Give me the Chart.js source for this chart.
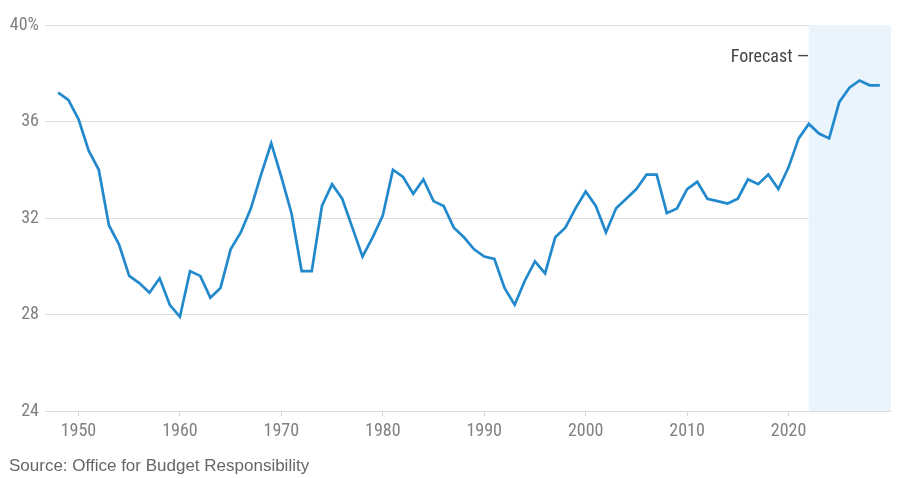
<!DOCTYPE html>
<html>
<head>
<meta charset="utf-8">
<script src="https://cdn.jsdelivr.net/npm/chart.js@4"></script>
<style>
  html, body { margin: 0; padding: 0; background: #fff; }
  #wrap { width: 900px; height: 478px; position: relative; }
</style>
</head>
<body>
<div id="wrap"><canvas id="c" width="900" height="478"></canvas></div>
<script>
// ---- data ----
const years = [1948,1949,1950,1951,1952,1953,1954,1955,1956,1957,1958,1959,1960,1961,1962,1963,1964,1965,1966,1967,1968,1969,1970,1971,1972,1973,1974,1975,1976,1977,1978,1979,1980,1981,1982,1983,1984,1985,1986,1987,1988,1989,1990,1991,1992,1993,1994,1995,1996,1997,1998,1999,2000,2001,2002,2003,2004,2005,2006,2007,2008,2009,2010,2011,2012,2013,2014,2015,2016,2017,2018,2019,2020,2021,2022,2023,2024,2025,2026,2027,2028,2029];
const taxShare = [37.2,36.9,36.1,34.8,34.0,31.7,30.9,29.6,29.3,28.9,29.5,28.4,27.9,29.8,29.6,28.7,29.1,30.7,31.4,32.4,33.8,35.1,33.7,32.2,29.8,29.8,32.5,33.4,32.8,31.6,30.4,31.2,32.1,34.0,33.7,33.0,33.6,32.7,32.5,31.6,31.2,30.7,30.4,30.3,29.1,28.4,29.4,30.2,29.7,31.2,31.6,32.4,33.1,32.5,31.4,32.4,32.8,33.2,33.8,33.8,32.2,32.4,33.2,33.5,32.8,32.7,32.6,32.8,33.6,33.4,33.8,33.2,34.1,35.3,35.9,35.5,35.3,36.8,37.4,37.7,37.5,37.5];
const yTicks = [24, 28, 32, 36, 40];
const xTicks = [1950, 1960, 1970, 1980, 1990, 2000, 2010, 2020];
const forecastStart = 2022;
const forecastLabel = "Forecast —";
const sourceText = "Source: Office for Budget Responsibility";

const NARROW = '"Liberation Sans Narrow", "Roboto Condensed", "Liberation Sans", sans-serif';

const forecastPlugin = {
  id: 'forecast',
  beforeDatasetsDraw(chart) {
    const { ctx, chartArea, scales } = chart;
    const x0 = scales.x.getPixelForValue(forecastStart);
    ctx.save();
    ctx.fillStyle = '#eaf4fc';
    ctx.fillRect(x0, chartArea.top, chartArea.right - x0, chartArea.bottom - chartArea.top);
    ctx.restore();
  },
  afterDatasetsDraw(chart) {
    const { ctx, scales } = chart;
    const x0 = scales.x.getPixelForValue(forecastStart);
    ctx.save();
    ctx.font = '18px ' + NARROW;
    ctx.fillStyle = '#444';
    ctx.textAlign = 'right';
    ctx.textBaseline = 'middle';
    ctx.fillText(forecastLabel, x0, scales.y.getPixelForValue(38.65));
    ctx.restore();
  }
};

new Chart(document.getElementById('c'), {
  type: 'line',
  data: {
    datasets: [{
      data: years.map((y, i) => ({ x: y, y: taxShare[i] })),
      borderColor: '#2289cc',
      borderWidth: 2.7,
      pointRadius: 0,
      tension: 0,
      fill: false
    }]
  },
  options: {
    responsive: false,
    animation: false,
    events: [],
    layout: { padding: { left: 9, right: 9, top: 25, bottom: 0 } },
    plugins: {
      legend: { display: false },
      tooltip: { enabled: false },
      title: {
        display: true,
        position: 'bottom',
        align: 'start',
        text: sourceText,
        color: '#666',
        font: { family: '"Liberation Sans", Arial, sans-serif', size: 17, weight: 'normal' },
        padding: { top: 9, bottom: 1 }
      }
    },
    scales: {
      x: {
        type: 'linear',
        min: 1946.7,
        max: 2030.1,
        afterBuildTicks(scale) { scale.ticks = xTicks.map(v => ({ value: v })); },
        ticks: {
          color: '#808080',
          font: { family: NARROW, size: 18 },
          padding: 5,
          maxRotation: 0,
          callback: v => String(v)
        },
        grid: { drawOnChartArea: false, drawTicks: true, tickLength: 5, color: '#d8d8d8' },
        border: { display: false }
      },
      y: {
        min: 24,
        max: 40,
        afterBuildTicks(scale) { scale.ticks = yTicks.map(v => ({ value: v })); },
        afterFit(scale) { scale.width = 36; },
        ticks: {
          color: '#808080',
          font: { family: NARROW, size: 18 },
          padding: 6,
          callback: v => v === 40 ? '40%' : String(v)
        },
        grid: { color: '#dcdcdc', drawTicks: false, lineWidth: 1 },
        border: { display: false }
      }
    }
  },
  plugins: [forecastPlugin]
});
</script>
</body>
</html>
